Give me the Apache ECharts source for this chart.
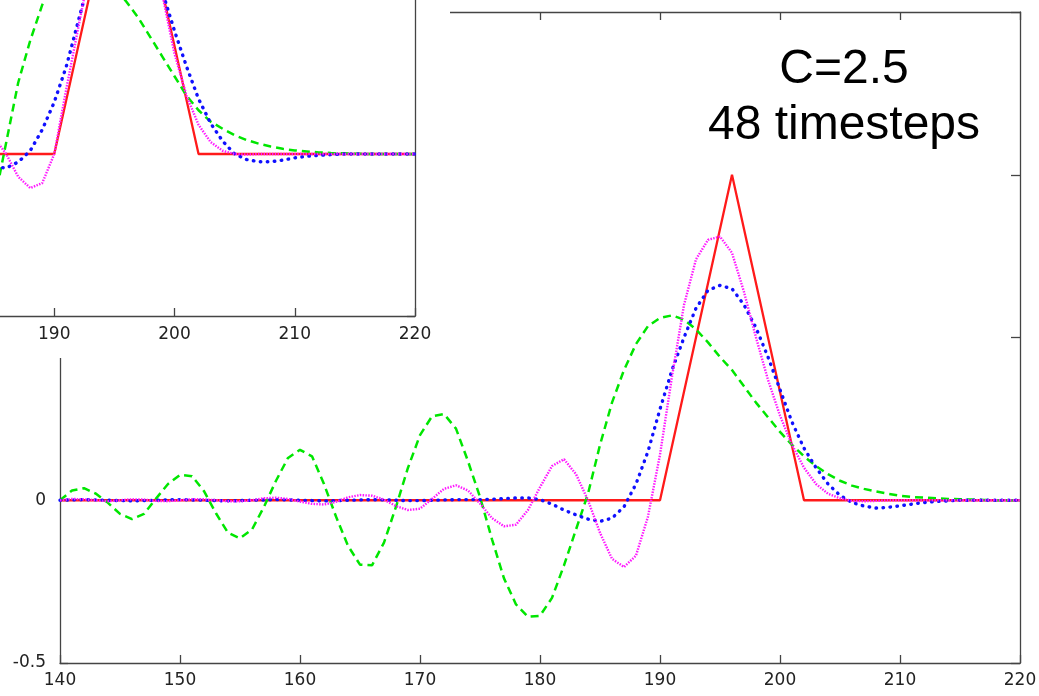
<!DOCTYPE html>
<html>
<head>
<meta charset="utf-8">
<script src="https://cdn.jsdelivr.net/npm/echarts@6/dist/echarts.min.js"></script>
<style>
html,body{margin:0;padding:0;background:#fff;}
#chart{width:1039px;height:696px;}
</style>
</head>
<body>
<div id="chart"></div>
<script>
// ---------- main plot data (C=2.5, 48 timesteps) ----------
var mainX = [140,141,142,143,144,145,146,147,148,149,150,151,152,153,154,155,156,157,158,159,
  160,161,162,163,164,165,166,167,168,169,170,171,172,173,174,175,176,177,178,179,
  180,181,182,183,184,185,186,187,188,189,190,191,192,193,194,195,196,197,198,199,
  200,201,202,203,204,205,206,207,208,209,210,211,212,213,214,215,216,217,218,219,220];
var redX = [140,190,196,202,220];
var redY = [0,0,1,0,0];
var greenMain = [0.0,0.03,0.037,0.02,-0.008,-0.042,-0.058,-0.042,0.005,0.05,
  0.078,0.074,0.028,-0.04,-0.1,-0.117,-0.09,-0.02,0.06,0.13,
  0.155,0.135,0.05,-0.05,-0.14,-0.198,-0.2,-0.13,-0.02,0.1,
  0.2,0.258,0.265,0.22,0.12,0.01,-0.12,-0.24,-0.32,-0.358,
  -0.355,-0.3,-0.2,-0.09,0.02,0.17,0.3,0.4,0.48,0.535,
  0.56,0.568,0.555,0.525,0.485,0.44,0.4,0.35,0.3,0.255,
  0.21,0.17,0.135,0.105,0.08,0.06,0.045,0.035,0.027,0.02,
  0.014,0.01,0.008,0.006,0.004,0.003,0.002,0.001,0.0,0.0,0.0];
var blueMain = [0,0.001,0.002,0.001,0,-0.001,-0.002,-0.001,0,0.001,
  0.002,0.001,0,-0.001,-0.002,-0.001,0,0.001,0.002,0.001,
  0,-0.001,-0.002,-0.001,0,0.001,0.002,0.001,0,-0.001,
  -0.001,0,0.001,0.002,0.002,0.002,0.003,0.005,0.007,0.007,
  0.002,-0.012,-0.03,-0.045,-0.058,-0.065,-0.055,-0.02,0.05,0.15,
  0.28,0.4,0.5,0.59,0.645,0.66,0.65,0.6,0.53,0.44,
  0.34,0.24,0.16,0.1,0.05,0.015,-0.007,-0.018,-0.024,-0.022,
  -0.017,-0.012,-0.007,-0.004,-0.002,0,0,0,0,0,0];
var magentaMain = [0,0.004,0.003,0,-0.003,0,0.003,0.002,-0.002,-0.003,
  0,0.003,0.003,0,-0.003,-0.003,0,0.006,0.008,0.004,
  -0.004,-0.011,-0.013,-0.005,0.009,0.016,0.014,0.002,-0.018,-0.03,
  -0.026,0.004,0.035,0.046,0.03,-0.01,-0.055,-0.08,-0.075,-0.03,
  0.04,0.105,0.126,0.08,0.0,-0.1,-0.18,-0.205,-0.17,-0.05,
  0.14,0.38,0.6,0.74,0.8,0.81,0.76,0.64,0.5,0.37,
  0.26,0.17,0.1,0.05,0.02,0.006,-0.002,-0.003,-0.002,0,
  0,0,0,0,0,0,0,0,0,0,0];

// ---------- inset plot data (visible part only) ----------
var insetX = [184,185,186,187,188,189,190,191,192,193,194,195,196,197,198,199,
  200,201,202,203,204,205,206,207,208,209,210,211,212,213,214,215,216,217,218,219,220];
var greenInset = [-0.3,-0.15,0.035,0.22,0.35,0.46,0.54,0.59,0.6,0.585,0.555,0.515,0.47,0.42,0.36,0.3,
  0.24,0.18,0.135,0.1,0.078,0.058,0.043,0.032,0.023,0.016,0.011,0.008,0.005,0.003,0.002,0.001,0,0,0,0,0];
var blueInset = [-0.03,-0.04,-0.043,-0.025,0.01,0.075,0.16,0.27,0.41,0.55,0.66,0.73,0.74,0.7,0.61,0.5,
  0.38,0.27,0.17,0.095,0.04,0.0,-0.017,-0.024,-0.024,-0.019,-0.012,-0.007,-0.004,-0.002,0,0,0,0,0,0,0];
var magentaInset = [0.09,0.05,0.0,-0.07,-0.105,-0.09,0.0,0.2,0.39,0.58,0.72,0.8,0.82,0.76,0.63,0.49,
  0.31,0.18,0.09,0.037,0.01,0.0,-0.002,0,0,0,0,0,0,0,0,0,0,0,0,0,0];

var xTickLabels = ['140','150','160','170','180','190','200','210','220'];
var titleLines = ['C=2.5', '48 timesteps'];

function pairs(xs, ys){ return xs.map(function(x,i){ return [x, ys[i]]; }); }

var AXC = '#444';
var LBL = {fontFamily:'DejaVu Sans', fontSize:17, color:'#222'};
var RED = {color:'#ff1a1a', width:2.3, type:'solid'};
var GREEN = {color:'#00e600', width:2.5, type:[8,5]};
var BLUE = {color:'#1010ff', width:3.4, type:[0.5,6.5], cap:'round'};
var MAG = {color:'#ff1aff', width:2.4, type:[1.5,1.3]};

function lineSeries(name, data, style, xi, yi, z){
  return {name:name, type:'line', data:data, xAxisIndex:xi, yAxisIndex:yi,
    showSymbol:false, symbol:'none', lineStyle:style, z:z, animation:false, silent:true};
}

var chart = echarts.init(document.getElementById('chart'), null, {renderer:'canvas'});
var option = {
  animation:false,
  backgroundColor:'#fff',
  grid:[
    {left:60, right:19, top:12, bottom:33, containLabel:false, outerBoundsMode:'none'},
    {left:-66, right:624, top:-8, bottom:380, containLabel:false, outerBoundsMode:'none'}
  ],
  xAxis:[
    {gridIndex:0, type:'value', position:'bottom', min:140, max:220, interval:10,
      axisLine:{show:true, onZero:false, lineStyle:{color:AXC, width:1.3}},
      axisTick:{show:true, inside:true, length:8, lineStyle:{color:AXC, width:1.3}},
      axisLabel:Object.assign({margin:9, formatter:function(v){ return xTickLabels[(v-140)/10] || String(v); }}, LBL),
      splitLine:{show:false}},
    {gridIndex:0, type:'value', position:'top', min:140, max:220, interval:10,
      axisLine:{show:true, onZero:false, lineStyle:{color:AXC, width:1.3}},
      axisTick:{show:true, inside:true, length:8, lineStyle:{color:AXC, width:1.3}},
      axisLabel:{show:false}, splitLine:{show:false}},
    {gridIndex:1, type:'value', position:'bottom', min:180, max:220, interval:10, z:20,
      axisLine:{show:true, onZero:false, lineStyle:{color:AXC, width:1.3}},
      axisTick:{show:true, inside:true, length:8, lineStyle:{color:AXC, width:1.3}},
      axisLabel:Object.assign({margin:10}, LBL),
      splitLine:{show:false}}
  ],
  yAxis:[
    {gridIndex:0, type:'value', position:'left', min:-0.5, max:1.5, interval:0.5,
      axisLine:{show:true, onZero:false, lineStyle:{color:AXC, width:1.3}},
      axisTick:{show:true, inside:true, length:8, lineStyle:{color:AXC, width:1.3}},
      axisLabel:Object.assign({margin:14, formatter:function(v){ return String(v); }}, LBL),
      splitLine:{show:false}},
    {gridIndex:0, type:'value', position:'right', min:-0.5, max:1.5, interval:0.5,
      axisLine:{show:true, onZero:false, lineStyle:{color:AXC, width:1.3}},
      axisTick:{show:true, inside:true, length:9, lineStyle:{color:AXC, width:1.3}},
      axisLabel:{show:false}, splitLine:{show:false}},
    {gridIndex:1, type:'value', position:'right', min:-0.5, max:0.5, interval:0.5, z:20,
      axisLine:{show:true, onZero:false, lineStyle:{color:AXC, width:1.3}},
      axisTick:{show:true, inside:true, length:8, lineStyle:{color:AXC, width:1.3}},
      axisLabel:{show:false}, splitLine:{show:false}}
  ],
  graphic:{elements:[
    {type:'rect', z:10, silent:true, shape:{x:0, y:0, width:450, height:358}, style:{fill:'#fff'}},
    {type:'text', z:30, x:844, y:70, style:{text:titleLines[0], fill:'#000',
      font:'48px "Liberation Sans", Arial, sans-serif', textAlign:'center', textVerticalAlign:'middle'}},
    {type:'text', z:30, x:844, y:126, style:{text:titleLines[1], fill:'#000',
      font:'48px "Liberation Sans", Arial, sans-serif', textAlign:'center', textVerticalAlign:'middle'}}
  ]},
  series:[
    lineSeries('exact', pairs(redX, redY), RED, 0, 0, 2),
    lineSeries('green', pairs(mainX, greenMain), GREEN, 0, 0, 3),
    lineSeries('blue', pairs(mainX, blueMain), BLUE, 0, 0, 4),
    lineSeries('magenta', pairs(mainX, magentaMain), MAG, 0, 0, 5),
    lineSeries('exact-inset', pairs(redX, redY), RED, 2, 2, 20),
    lineSeries('green-inset', pairs(insetX, greenInset), GREEN, 2, 2, 21),
    lineSeries('blue-inset', pairs(insetX, blueInset), BLUE, 2, 2, 22),
    lineSeries('magenta-inset', pairs(insetX, magentaInset), MAG, 2, 2, 23)
  ]
};
chart.setOption(option);
</script>
</body>
</html>
